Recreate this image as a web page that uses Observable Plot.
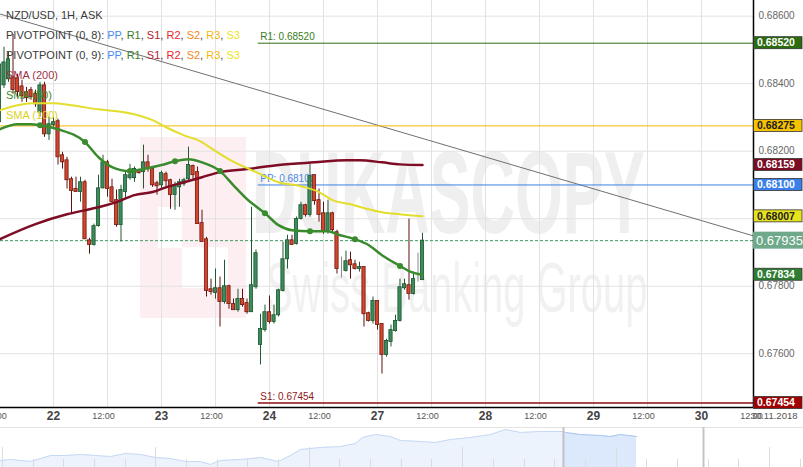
<!DOCTYPE html>
<html><head><meta charset="utf-8">
<script src="https://cdn.jsdelivr.net/npm/d3@7"></script>
<script src="https://cdn.jsdelivr.net/npm/@observablehq/plot@0.6"></script>
<style>
html,body{margin:0;padding:0;background:#fff;}
#wrap{position:relative;width:803px;height:467px;overflow:hidden;font-family:"Liberation Sans",Arial,sans-serif;background:#fff;}
.wm{position:absolute;white-space:nowrap;line-height:1;transform-origin:left top;}
#main,#nav{position:absolute;left:0;}
#main{top:0;} #nav{top:425px;}
#legend{position:absolute;left:6px;top:5px;font-size:11px;line-height:20px;color:#3a3a3a;z-index:5;}
svg{display:block}
</style></head>
<body>
<div id="wrap">
  <div class="wm" style="left:140px;top:137px;width:106px;height:181px;background:#fdeef1;"></div>
  <div class="wm" style="left:158px;top:207px;width:24px;height:41px;background:#fff;"></div>
  <div class="wm" style="left:182px;top:247px;width:46px;height:41px;background:#fff;"></div>
  <div class="wm" style="left:252px;top:135px;font-size:116px;font-weight:bold;color:#efefef;transform:scaleX(0.53);">DUKASCOPY</div>
  <div class="wm" style="left:266px;top:253px;font-size:70px;color:#f1f1f1;transform:scaleX(0.57);">Swiss Banking Group</div>
  <div id="main"></div>
  <div id="nav"></div>
  <div id="legend">
    <div>NZD/USD, 1H, ASK</div>
    <div>PIVOTPOINT (0, 8): <span style="color:#4a8af0">PP</span>, <span style="color:#3a7d2a">R1</span>, <span style="color:#b01c2c">S1</span>, <span style="color:#e8262a">R2</span>, <span style="color:#f08a24">S2</span>, <span style="color:#f5b80a">R3</span>, <span style="color:#eee21a">S3</span></div>
    <div>PIVOTPOINT (0, 9): <span style="color:#4a8af0">PP</span>, <span style="color:#3a7d2a">R1</span>, <span style="color:#b01c2c">S1</span>, <span style="color:#e8262a">R2</span>, <span style="color:#f08a24">S2</span>, <span style="color:#f5b80a">R3</span>, <span style="color:#eee21a">S3</span></div>
    <div style="color:#a03246">SMA (200)</div>
    <div style="color:#3c8c2c">SMA (50)</div>
    <div style="color:#dcd21e">SMA (100)</div>
  </div>
</div>
<script>
// ---------- DATA ----------
// hourly candles, index 0 = 21 Nov 12:00
const candleOpen = [0.68286,0.68395,0.68413,0.68419,0.68416,0.68392,0.68375,0.68381,0.68369,0.68315,
0.68395,0.68250,0.68277,0.68289,0.68188,0.68173,0.68117,0.68088,0.68079,0.68108,
0.67936,0.67922,0.67978,0.68090,0.68167,0.68093,0.68055,0.67981,0.68079,0.68120,
0.68120,0.68144,0.68138,0.68167,0.68147,0.68105,0.68099,0.68132,0.68114,0.68070,
0.68093,0.68102,0.68117,0.68156,0.68138,0.67987,0.67939,0.67791,0.67780,0.67794,
0.67753,0.67800,0.67747,0.67729,0.67762,0.67750,0.67723,0.67797,0.67626,0.67670,
0.67723,0.67694,0.67714,0.67786,0.67880,0.67936,0.67925,0.67999,0.68040,0.68011,
0.68129,0.68055,0.68016,0.67963,0.68016,0.67960,0.67848,0.67845,0.67877,0.67865,
0.67851,0.67857,0.67720,0.67697,0.67756,0.67688,0.67596,0.67635,0.67667,0.67697,
0.67794,0.67803,0.67777,0.67821,0.67818];
const candleHigh = [0.68469,0.68508,0.68493,0.68546,0.68428,0.68410,0.68389,0.68389,0.68381,0.68404,
0.68404,0.68301,0.68301,0.68295,0.68197,0.68182,0.68123,0.68123,0.68123,0.68114,
0.67942,0.67984,0.68129,0.68188,0.68173,0.68117,0.68085,0.68099,0.68138,0.68161,
0.68153,0.68147,0.68218,0.68188,0.68153,0.68111,0.68141,0.68138,0.68117,0.68108,
0.68117,0.68120,0.68212,0.68159,0.68153,0.68025,0.67945,0.67821,0.67851,0.67827,
0.67877,0.67803,0.67762,0.67791,0.67791,0.67762,0.68034,0.67907,0.67717,0.67744,
0.67771,0.67744,0.67791,0.67931,0.67951,0.67951,0.68005,0.68049,0.68043,0.68161,
0.68129,0.68088,0.68049,0.68055,0.68019,0.67966,0.67886,0.67904,0.67901,0.67877,
0.67871,0.67857,0.67723,0.67768,0.67756,0.67688,0.67643,0.67685,0.67714,0.67821,
0.67821,0.67999,0.67842,0.67898,0.67957];
const candleLow = [0.68280,0.68386,0.68404,0.68369,0.68360,0.68345,0.68345,0.68351,0.68330,0.68301,
0.68241,0.68232,0.68271,0.68159,0.68147,0.68088,0.68013,0.68079,0.68049,0.67939,
0.67895,0.67919,0.67975,0.68088,0.68064,0.68049,0.67975,0.67931,0.68058,0.68114,
0.68108,0.68132,0.68088,0.68138,0.68093,0.68070,0.68085,0.68093,0.68028,0.68025,
0.68034,0.68096,0.68108,0.68117,0.67984,0.67931,0.67768,0.67774,0.67762,0.67679,
0.67747,0.67732,0.67729,0.67723,0.67738,0.67717,0.67723,0.67791,0.67567,0.67664,
0.67688,0.67688,0.67709,0.67783,0.67851,0.67922,0.67922,0.67996,0.68005,0.68005,
0.68040,0.67990,0.67954,0.67954,0.67960,0.67836,0.67824,0.67842,0.67821,0.67848,
0.67842,0.67679,0.67694,0.67688,0.67670,0.67540,0.67590,0.67620,0.67664,0.67694,
0.67788,0.67759,0.67774,0.67812,0.67818];
const candleClose = [0.68457,0.68463,0.68472,0.68381,0.68375,0.68363,0.68357,0.68360,0.68339,0.68395,
0.68250,0.68280,0.68286,0.68182,0.68167,0.68114,0.68082,0.68079,0.68108,0.67939,
0.67922,0.67978,0.68090,0.68167,0.68088,0.68049,0.67981,0.68085,0.68129,0.68129,
0.68147,0.68135,0.68167,0.68147,0.68099,0.68096,0.68135,0.68111,0.68070,0.68099,
0.68108,0.68114,0.68159,0.68129,0.67984,0.67931,0.67786,0.67783,0.67794,0.67753,
0.67800,0.67747,0.67729,0.67762,0.67744,0.67723,0.67803,0.67898,0.67673,0.67723,
0.67694,0.67714,0.67788,0.67880,0.67936,0.67922,0.67999,0.68040,0.68011,0.68126,
0.68052,0.68011,0.67963,0.68016,0.67966,0.67851,0.67848,0.67874,0.67862,0.67851,
0.67857,0.67717,0.67697,0.67756,0.67685,0.67596,0.67638,0.67670,0.67697,0.67797,
0.67806,0.67777,0.67821,0.67821,0.67935];

const sma200Idx = [0,8,15,20,22,26,30,34,37,41,45,49,55,62,70,77,80,85,89,94];
const sma200Val = [0.67939,0.67984,0.68013,0.68028,0.68034,0.68049,0.68070,0.68079,0.68093,0.68108,0.68123,0.68138,0.68147,0.68159,0.68167,0.68173,0.68173,0.68167,0.68161,0.68159];
const sma50Idx = [0,4,7,9,13,19,22,25,29,32,36,39,42,45,49,52,55,59,62,65,69,73,75,79,82,85,89,91,94];
const sma50Val = [0.68265,0.68280,0.68280,0.68277,0.68265,0.68227,0.68182,0.68153,0.68141,0.68147,0.68159,0.68170,0.68176,0.68167,0.68141,0.68099,0.68058,0.68016,0.67981,0.67966,0.67963,0.67963,0.67954,0.67939,0.67922,0.67892,0.67860,0.67845,0.67834];
const sma50DotIdx = [9,19,29,39,49,59,69,79,89];
const sma100Idx = [0,4,7,12,16,22,28,31,34,37,41,45,46,51,57,62,67,71,74,78,82,85,89,94];
const sma100Val = [0.68321,0.68336,0.68342,0.68342,0.68336,0.68324,0.68315,0.68306,0.68292,0.68271,0.68247,0.68227,0.68218,0.68176,0.68138,0.68108,0.68096,0.68079,0.68055,0.68043,0.68028,0.68019,0.68013,0.68007];

const pivotNames = ["R1","PP","S1"];
const pivotValues = [0.68520,0.68100,0.67454];
const pivotStartIdx = 57.5;
const levelGold = 0.68275;
const lastPrice = 0.67935;
const trendIdx = [0.22, 167.56];
const trendVal = [0.68606, 0.67949];

const yGrid = [0.676,0.678,0.680,0.682,0.684,0.686];
const yTickLabels = [0.676,0.678,0.682,0.684,0.686];
const xTickIdx = [0,12,24,36,48,60,72,84,96,108,120,132,144,156,168];
const xTickLabels = ["12:00","22","12:00","23","12:00","24","12:00","27","12:00","28","12:00","29","12:00","30","12:00"];
const dateLabel = "30.11.2018";

const boxValues = [0.68520,0.68275,0.68159,0.68100,0.68007,0.67935,0.67834,0.67454];
const boxFill   = ["#2c6b0f","#f7c300","#7a0d22","#3b7fe8","#e6e21e","#6ea98a","#2e7d32","#a00000"];
const boxText   = ["#fff","#222","#fff","#fff","#222","#fff","#fff","#fff"];

// navigator overview
const navT = [0,10,30,40,50,65,80,95,110,125,140,155,170,185,200,210,220,240,260,278,290,300,320,340,355,362,375,390,400,420,435,450,470,490,505,520,540,562];
const navV = [7,8,6,9,12,12,13,12,11,14,13,10,9,6,6,3,7,8,10,6,12,18,20,21,24,30,33,31,27,26,25,28,30,33,38,35,36,36];
const navSelT = [562,565,580,600,610,620,636];
const navSelV = [36,35,33,32,31,33,31];
const navTickT = [2,33,63,94,125,155,186,217,247,278,309,339,370,401,431,462,493,524,554,585,616,646,677,708,738,769,800];
const navHandleT = [563,703];

// ---------- BUILD ----------
const xMin = 0.222, xMax = 167.556;
const yMin = 0.674407, yMax = 0.686465;
const candles = candleOpen.map((o,i)=>({i, open:o, high:candleHigh[i], low:candleLow[i], close:candleClose[i],
  dir: candleClose[i]>o ? 1 : candleClose[i]<o ? -1 : 0}));
const bodyFill = d => d.dir>0 ? "#3c8c5b" : d.dir<0 ? "#d3462b" : "#8a8a8a";
const bodyStroke = d => d.dir>0 ? "#1d5530" : d.dir<0 ? "#701a12" : "#8a8a8a";
const wickStroke = d => d.dir>0 ? "#1f5a33" : d.dir<0 ? "#5e1111" : "#8a8a8a";
const sma200 = sma200Idx.map((i,k)=>({i, v:sma200Val[k]}));
const sma50 = sma50Idx.map((i,k)=>({i, v:sma50Val[k]}));
const sma100 = sma100Idx.map((i,k)=>({i, v:sma100Val[k]}));
const sma50Dots = sma50.filter(d=>sma50DotIdx.includes(d.i));
const pivots = pivotNames.map((n,k)=>({name:n, v:pivotValues[k]}));
const pivotStroke = {R1:"#2e6e10", PP:"#3a7fe8", S1:"#8e0c0c"};
const pivotTextFill = {R1:"#3a7d22", PP:"#4a86e8", S1:"#8e1a1a"};
const trend = trendIdx.map((i,k)=>({i, v:trendVal[k]}));
const xTicks = xTickIdx.map((i,k)=>({i, label:xTickLabels[k], day: !xTickLabels[k].includes(":")}));

const chart = Plot.plot({
  width: 803, height: 425,
  marginLeft: 0, marginRight: 50, marginTop: 0, marginBottom: 18,
  x: {domain: [xMin, xMax], axis: null},
  y: {domain: [yMin, yMax], axis: null},
  style: {background: "transparent", fontFamily: "Liberation Sans, Arial, sans-serif", overflow: "visible"},
  marks: [
    Plot.ruleY(yGrid, {stroke: "#e2e2e2"}),
    Plot.ruleX(xTicks.filter(d=>d.i<xMax), {x: "i", stroke: "#e2e2e2"}),
    Plot.line(trend, {x: "i", y: "v", stroke: "#707070", strokeWidth: 1}),
    Plot.ruleY([levelGold], {stroke: "#f4b800"}),
    Plot.ruleY([lastPrice], {stroke: "#3d9a63", strokeDasharray: "3,2"}),
    Plot.ruleY(pivots, {y: "v", x1: () => pivotStartIdx, x2: () => xMax, stroke: d => pivotStroke[d.name], strokeWidth: d => d.name==="S1" ? 1.5 : 1}),
    Plot.text(pivots, {x: () => pivotStartIdx, y: "v", text: d => `${d.name}: ${d.v.toFixed(5)}`, textAnchor: "start", dx: 2, dy: -6, fill: d => pivotTextFill[d.name], fontSize: 10}),
    Plot.ruleX(candles, {x: "i", y1: "low", y2: "high", stroke: wickStroke, strokeWidth: 1}),
    Plot.rect(candles, {x1: d=>d.i-0.36, x2: d=>d.i+0.36, y1: "open", y2: "close", fill: bodyFill, stroke: bodyStroke, strokeWidth: 0.8}),
    Plot.line(sma200, {x: "i", y: "v", stroke: "#7e0c24", strokeWidth: 2.5, curve: "monotone-x"}),
    Plot.line(sma100, {x: "i", y: "v", stroke: "#e3dd2b", strokeWidth: 2, curve: "monotone-x"}),
    Plot.line(sma50, {x: "i", y: "v", stroke: "#3a8b2e", strokeWidth: 2.5, curve: "monotone-x"}),
    Plot.dot(sma50Dots, {x: "i", y: "v", r: 3, fill: "#3a8b2e"}),
    Plot.ruleX([xMax], {stroke: "#000", strokeWidth: 1.5}),
    Plot.ruleY([yMin], {stroke: "#000", strokeWidth: 1.5}),
    Plot.text(yTickLabels, {x: () => xMax, y: d => d, text: d => d.toFixed(5), textAnchor: "start", dx: 5, fill: "#666", fontSize: 10}),
    Plot.text(xTicks.filter(d=>!d.day), {x: "i", frameAnchor: "bottom", text: "label", dy: 11, dx: -4, fill: "#555", fontSize: 9}),
    Plot.text(xTicks.filter(d=>d.day), {x: "i", frameAnchor: "bottom", text: "label", dy: 12, fill: "#444", fontSize: 12, fontWeight: "bold"}),
    Plot.text([dateLabel], {frameAnchor: "bottom-right", text: d => d, dx: 44, dy: 11, textAnchor: "end", fill: "#555", fontSize: 9.5})
  ]
});
document.getElementById("main").appendChild(chart);

// value boxes on the right axis, positioned with the plot's own y scale
const ys = chart.scale("y");
const svg = d3.select(chart);
boxValues.forEach((v,k) => {
  const y = ys.apply(v);
  const big = v === lastPrice;
  const h = big ? 17 : 12;
  svg.append("rect").attr("x", big ? 753 : 753.5).attr("y", y - h/2).attr("width", big ? 50 : 48.5).attr("height", h)
    .attr("fill", boxFill[k]).attr("stroke", big ? "none" : "#333").attr("stroke-width", 0.8);
  svg.append("text").attr("x", big ? 756 : 757).attr("y", y).attr("dy", "0.35em").attr("fill", boxText[k])
    .attr("text-anchor", "start")
    .attr("font-size", big ? 13 : 10.5).attr("font-weight", big ? "normal" : "bold")
    .attr("font-family", "Liberation Sans, Arial, sans-serif").text(v.toFixed(5));
});

// navigator
const navAll = navT.map((t,k)=>({t, v:navV[k]}));
const navSel = navSelT.map((t,k)=>({t, v:navSelV[k]}));
const navTicks = navTickT.map((t,k)=>({t, tall: k%5===0}));
const nav = Plot.plot({
  width: 803, height: 42, margin: 0,
  x: {domain: [0, 803], axis: null},
  y: {domain: [0, 42], axis: null},
  style: {background: "transparent", overflow: "visible"},
  marks: [
    Plot.ruleY([40], {stroke: "#e3e3e3"}),
    Plot.areaY(navAll, {x: "t", y: "v", fill: "#edf3fd"}),
    Plot.lineY(navAll, {x: "t", y: "v", stroke: "#c6d9f4", strokeWidth: 1}),
    Plot.areaY(navSel, {x: "t", y: "v", fill: "#dce8fb"}),
    Plot.lineY(navSel, {x: "t", y: "v", stroke: "#a9c5ef", strokeWidth: 1}),
    Plot.ruleX(navTicks, {x: "t", y1: 0, y2: d => d.tall ? 20 : 8, stroke: "#dcdcdc"}),
    Plot.ruleX(navHandleT, {y1: 0, y2: 40, stroke: "#c4c4c4", strokeWidth: 2})
  ]
});
document.getElementById("nav").appendChild(nav);
</script>
</body></html>
